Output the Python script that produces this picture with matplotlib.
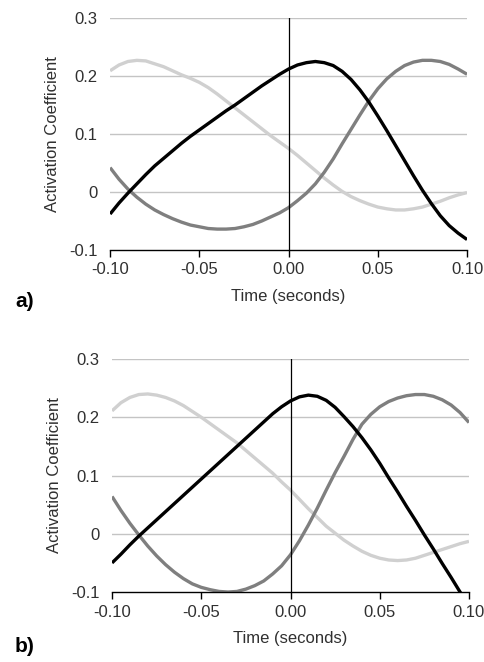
import matplotlib.pyplot as plt
import numpy as np

plt.rcParams['font.family'] = ['Liberation Sans', 'DejaVu Sans']

# time axis, read every 0.005 s
t = [round(-0.1 + 0.005 * i, 3) for i in range(41)]

# panel a
a_black = [-0.038, -0.019, -0.002, 0.014, 0.030, 0.045, 0.058, 0.071, 0.084, 0.096,
           0.107, 0.118, 0.129, 0.140, 0.150, 0.161, 0.172, 0.183, 0.193, 0.203,
           0.212, 0.219, 0.223, 0.225, 0.223, 0.218, 0.208, 0.194, 0.176, 0.155,
           0.131, 0.106, 0.080, 0.054, 0.028, 0.003, -0.020, -0.041, -0.058, -0.071,
           -0.082]
a_mid = [0.042, 0.022, 0.005, -0.009, -0.021, -0.031, -0.039, -0.046, -0.052, -0.057,
         -0.060, -0.063, -0.064, -0.064, -0.063, -0.060, -0.056, -0.050, -0.043, -0.036,
         -0.027, -0.015, -0.002, 0.014, 0.034, 0.057, 0.083, 0.108, 0.133, 0.157,
         0.178, 0.195, 0.208, 0.218, 0.224, 0.227, 0.227, 0.225, 0.220, 0.212,
         0.203]
a_light = [0.209, 0.219, 0.225, 0.227, 0.226, 0.221, 0.216, 0.209, 0.202, 0.196,
           0.189, 0.180, 0.169, 0.157, 0.145, 0.133, 0.121, 0.109, 0.097, 0.086,
           0.075, 0.063, 0.050, 0.037, 0.024, 0.012, 0.001, -0.008, -0.015, -0.021,
           -0.026, -0.029, -0.031, -0.031, -0.029, -0.026, -0.021, -0.016, -0.010, -0.005,
           -0.001]

# panel b
b_black = [-0.050, -0.035, -0.019, -0.004, 0.010, 0.024, 0.038, 0.052, 0.066, 0.080,
           0.094, 0.108, 0.122, 0.136, 0.150, 0.164, 0.178, 0.192, 0.206, 0.218,
           0.228, 0.235, 0.238, 0.236, 0.229, 0.217, 0.201, 0.184, 0.165, 0.144,
           0.121, 0.096, 0.072, 0.047, 0.023, -0.002, -0.026, -0.051, -0.075, -0.100,
           -0.124]
b_mid = [0.064, 0.040, 0.018, -0.002, -0.021, -0.038, -0.053, -0.066, -0.077, -0.086,
         -0.092, -0.096, -0.099, -0.100, -0.099, -0.095, -0.089, -0.081, -0.069, -0.055,
         -0.036, -0.012, 0.015, 0.044, 0.075, 0.105, 0.133, 0.162, 0.188, 0.205,
         0.218, 0.227, 0.233, 0.237, 0.239, 0.239, 0.236, 0.230, 0.221, 0.208,
         0.191]
b_light = [0.211, 0.225, 0.234, 0.239, 0.240, 0.238, 0.234, 0.228, 0.220, 0.210,
           0.200, 0.189, 0.178, 0.167, 0.156, 0.143, 0.130, 0.117, 0.104, 0.089,
           0.075, 0.059, 0.043, 0.028, 0.013, 0.001, -0.011, -0.021, -0.030, -0.037,
           -0.042, -0.045, -0.046, -0.045, -0.042, -0.037, -0.032, -0.027, -0.022, -0.017,
           -0.013]

xticks = [-0.10, -0.05, 0.00, 0.05, 0.10]
xlabels = ['-0.10', '-0.05', '0.00', '0.05', '0.10']
yticks = [-0.1, 0, 0.1, 0.2, 0.3]
ylabels = ['-0.1', '0', '0.1', '0.2', '0.3']

txt = '#303030'

fig = plt.figure(figsize=(4.85, 6.62), dpi=100)
ax1 = fig.add_axes([0.227, 0.6224, 0.736, 0.3504])
ax2 = fig.add_axes([0.231, 0.1057, 0.736, 0.352])


def draw(ax, black, mid, light):
    for y in [0, 0.1, 0.2, 0.3]:
        ax.axhline(y, color='#c4c4c4', lw=1.0, zorder=0)
    ax.plot(t, light, color='#d0d0d0', lw=2.4, solid_capstyle='butt')
    ax.plot(t, mid, color='#7f7f7f', lw=2.4, solid_capstyle='butt')
    ax.plot(t, black, color='#000000', lw=2.4, solid_capstyle='butt')
    ax.axvline(0, color='black', lw=0.9)
    ax.set_xlim(-0.10, 0.10)
    ax.set_ylim(-0.1, 0.3)
    for s in ['top', 'right', 'left']:
        ax.spines[s].set_visible(False)
    ax.spines['bottom'].set_linewidth(1.0)
    ax.set_xticks(xticks)
    ax.set_xticklabels(xlabels, fontsize=12, color=txt)
    ax.set_yticks(yticks)
    ax.set_yticklabels(ylabels, fontsize=12, color=txt)
    ax.tick_params(axis='x', direction='out', length=5, width=1, pad=4)
    ax.tick_params(axis='y', length=0, pad=9)
    ax.set_xlabel('Time (seconds)', fontsize=12, color=txt, labelpad=8)
    ax.set_ylabel('Activation Coefficient', fontsize=12, color=txt)
    ax.yaxis.set_label_coords(-0.14, 0.5)


draw(ax1, a_black, a_mid, a_light)
draw(ax2, b_black, b_mid, b_light)

fig.text(0.031, 1 - 301 / 662, 'a)', fontsize=15, fontweight='bold', va='center')
fig.text(0.031, 1 - 647 / 662, 'b)', fontsize=15, fontweight='bold', va='center')

fig.savefig('out.png', dpi=100)
